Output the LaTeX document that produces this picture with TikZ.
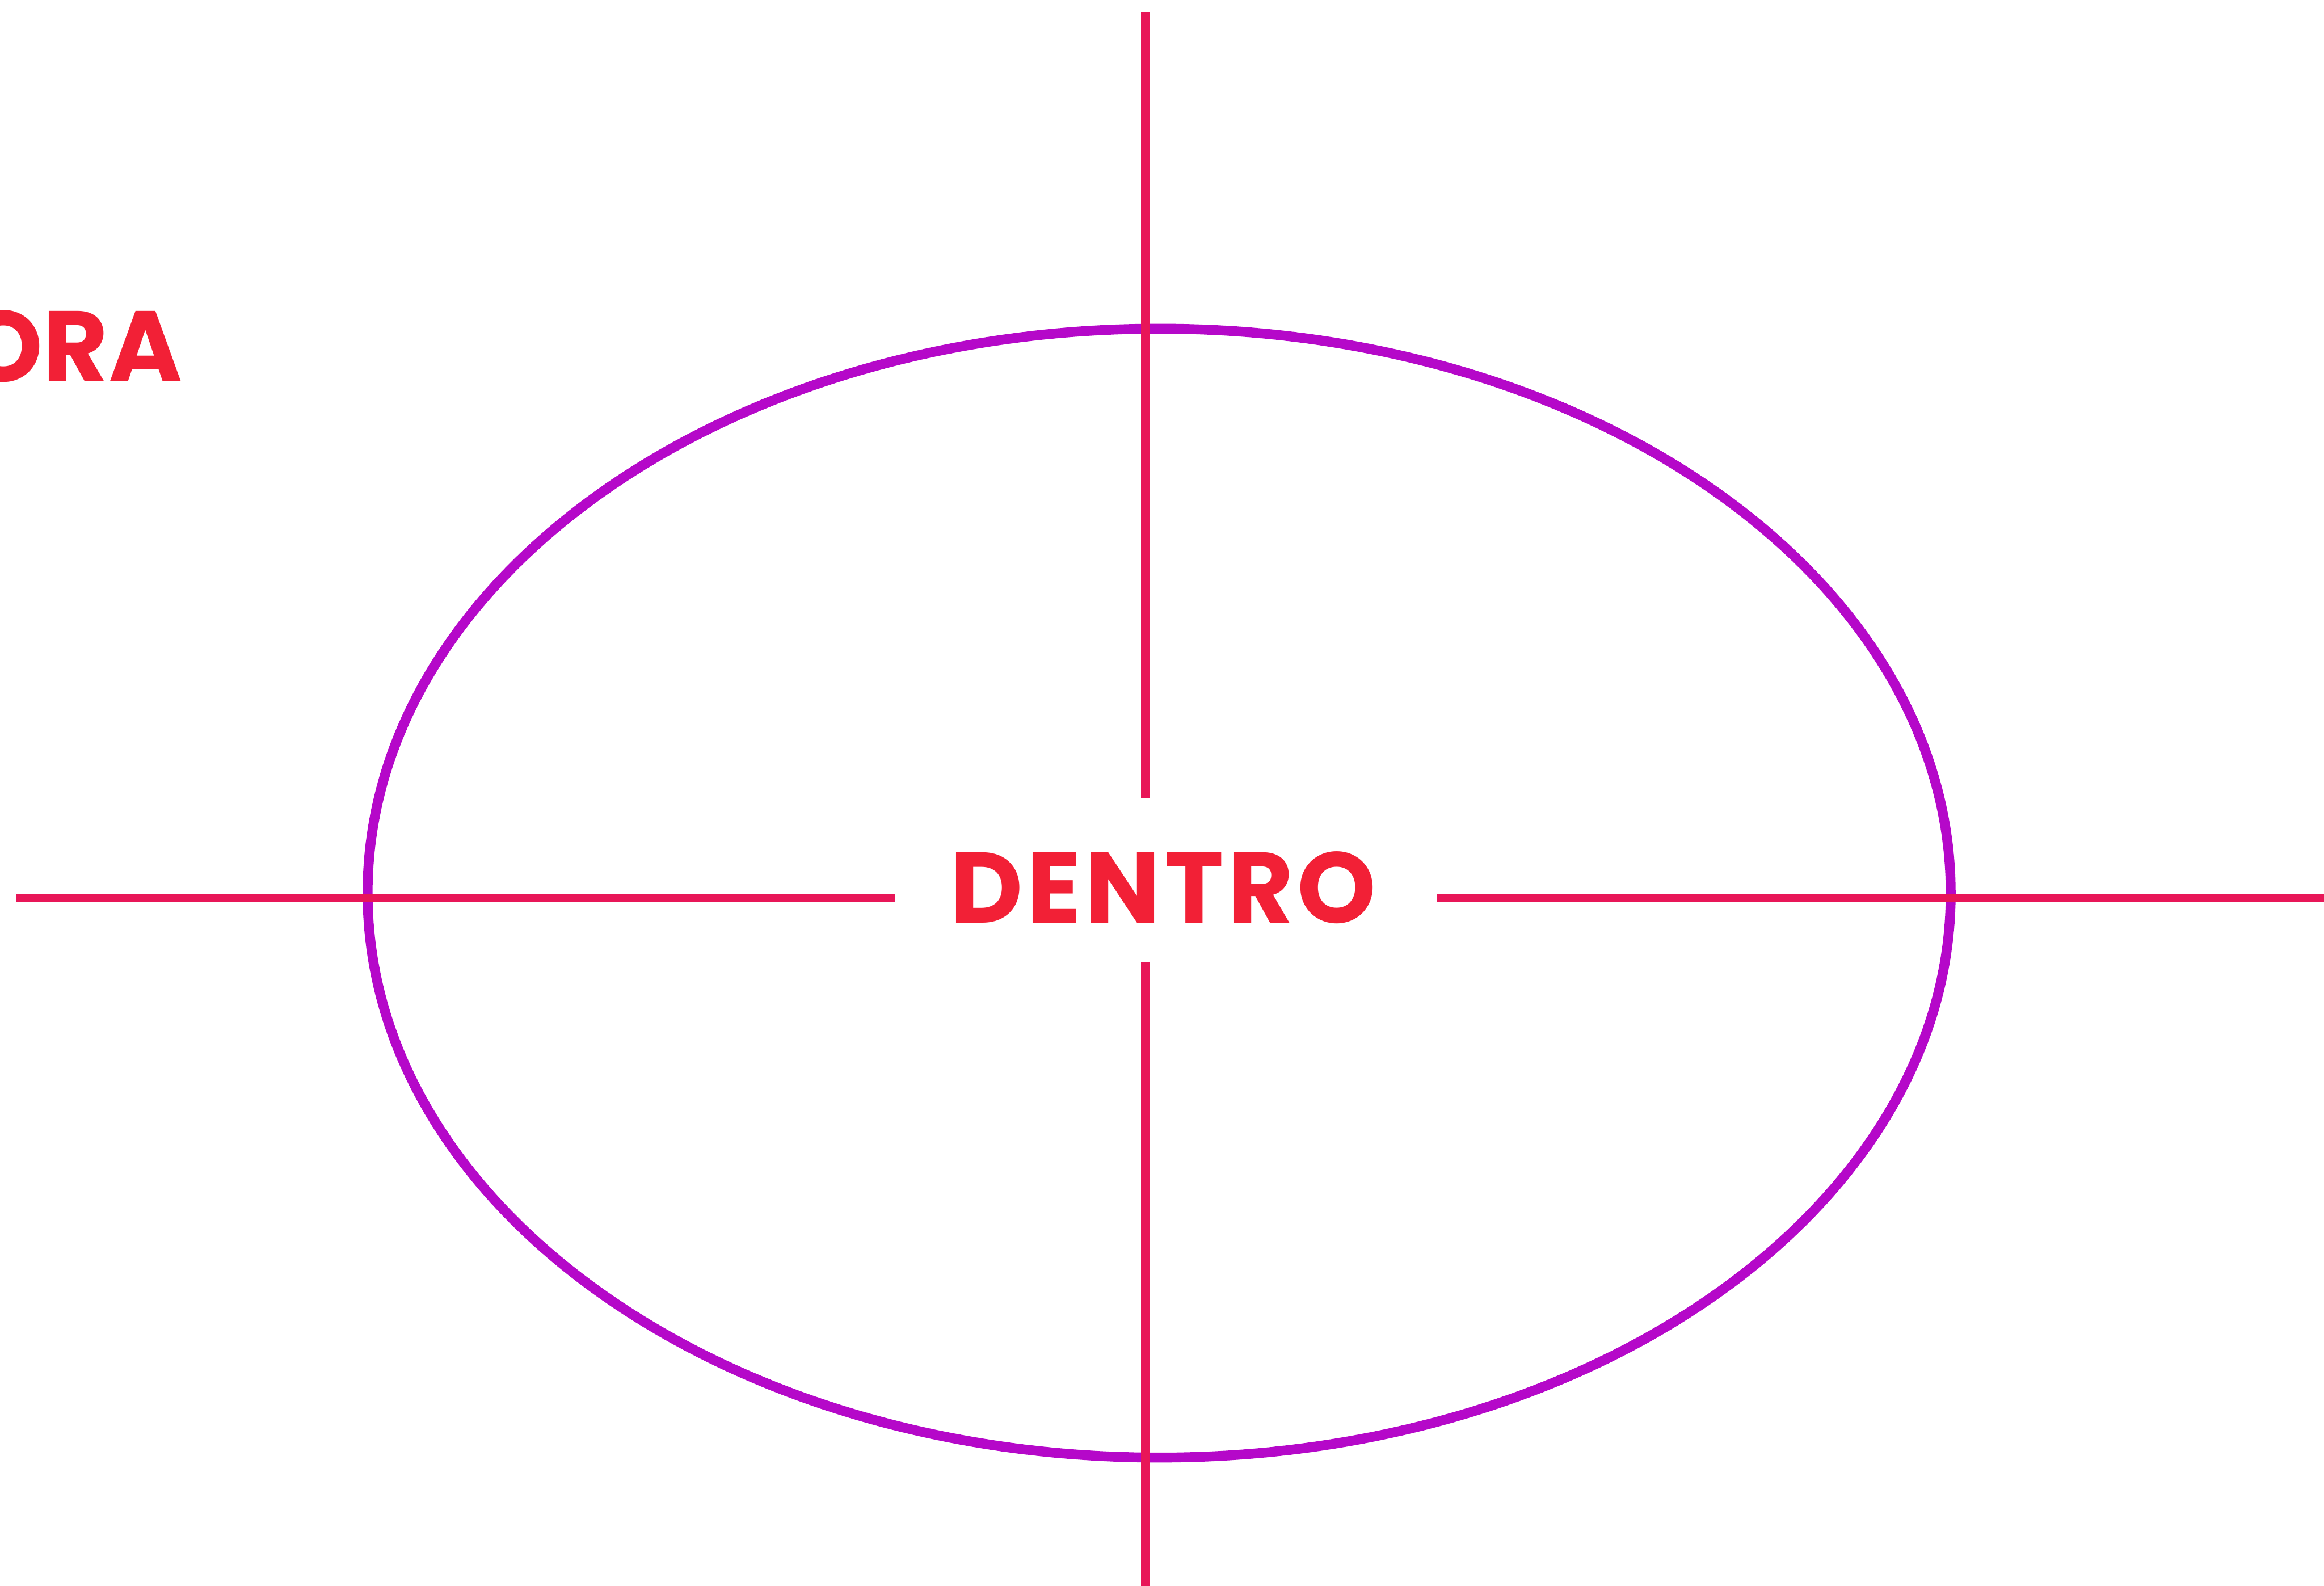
\documentclass[tikz,border=0pt]{standalone}
\usepackage{fontspec}
\setmainfont{Poppins}
\usetikzlibrary{positioning}
\definecolor{tagred}{RGB}{242,32,54}
\definecolor{axisred}{RGB}{232,22,88}
\definecolor{ringpurple}{RGB}{181,8,201}
\tikzset{
  axis/.style={draw=axisred, line width=0.16cm},
  ring/.style={draw=ringpurple, line width=0.19cm},
  tag/.style={text=tagred, font=\fontsize{55}{55}\selectfont\bfseries, inner sep=0pt},
}

\begin{document}
\begin{tikzpicture}[x=1cm, y=1cm]
  \useasboundingbox (0,0) rectangle (44.76,30.54);

  % the set
  \draw[ring] (22.325,13.34) ellipse [x radius=15.245, y radius=10.87];

  % axis ends
  \coordinate (vtop) at (22.06,30.31);
  \coordinate (vtopend) at (22.06,15.16);
  \coordinate (vbotstart) at (22.06,12.02);
  \coordinate (vbot) at (22.06,-0.2);
  \coordinate (hleft) at (0.32,13.25);
  \coordinate (hleftend) at (17.24,13.25);
  \coordinate (hrightstart) at (27.67,13.25);
  \coordinate (hright) at (45.0,13.25);

  \draw[axis] (vtop) -- (vtopend);
  \draw[axis] (vbotstart) -- (vbot);
  \draw[axis] (hleft) -- (hleftend);
  \draw[axis] (hrightstart) -- (hright);

  % labels
  \node[tag, anchor=base east] (fora) at (3.52,23.19) {FORA};
  \node[tag, anchor=base] (dentro) at (22.40,12.77) {\addfontfeature{LetterSpace=4}DENTRO};
\end{tikzpicture}
\end{document}
